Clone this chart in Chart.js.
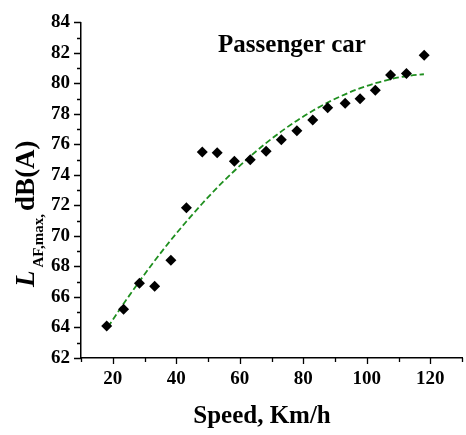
<!DOCTYPE html>
<html>
<head>
<meta charset="utf-8">
<script src="https://cdn.jsdelivr.net/npm/chart.js@4.4.1/dist/chart.umd.min.js"></script>
<style>
  html, body { margin: 0; padding: 0; background: #fff; overflow: hidden; }
  #ruido { display: block; }
</style>
</head>
<body>
<canvas id="ruido" width="472" height="435"></canvas>
<script>
"use strict";

// measured pass-by levels
const speeds = [18.1, 23.4, 28.4, 33.2, 38.3, 43.2, 48.2, 52.9, 58.3, 63.3, 68.3,
    73.1, 78.0, 83.0, 87.7, 93.2, 97.9, 102.7, 107.5, 112.5, 118.1];
const levels = [64.1, 65.2, 66.9, 66.7, 68.4, 71.85, 75.5, 75.45, 74.9, 75.0, 75.55,
    76.3, 76.9, 77.6, 78.4, 78.7, 79.0, 79.55, 80.55, 80.65, 81.85];

// trend line
const fitSpeeds = [18.5, 23, 28, 33, 38, 43, 48, 53, 58, 63, 68,
    73, 78, 83, 88, 93, 98, 103, 108, 113, 118];
const fitLevels = [64.03, 65.43, 66.91, 68.32, 69.65, 70.9, 72.08, 73.19, 74.21, 75.16, 76.04,
    76.84, 77.56, 78.21, 78.78, 79.27, 79.69, 80.03, 80.3, 80.49, 80.6];

const xTickLabels = [20, 40, 60, 80, 100, 120];
const yTickLabels = [62, 64, 66, 68, 70, 72, 74, 76, 78, 80, 82, 84];

const serif = "'Liberation Serif', 'Times New Roman', serif";

document.addEventListener("DOMContentLoaded", () => {
    const ruido = document.querySelector("#ruido");

    /**
     * Tick marks (long on labelled values, short in between) and the texts
     */
    const decoration = {
        id: "decoration",
        afterDraw(chart) {
            const { ctx, chartArea, scales } = chart;
            const x = scales.x;
            const y = scales.y;

            ctx.save();
            ctx.strokeStyle = "#000";
            ctx.lineWidth = 1.3;
            ctx.beginPath();
            for (let v = 10; v <= 130; v += 10) {
                const px = Math.round(x.getPixelForValue(v)) + 0.5;
                const len = v % 20 === 0 ? 6 : 4;
                ctx.moveTo(px, chartArea.bottom);
                ctx.lineTo(px, chartArea.bottom + len);
            }
            for (let v = 62; v <= 84; v += 1) {
                const py = Math.round(y.getPixelForValue(v)) + 0.5;
                const len = v % 2 === 0 ? 7 : 4;
                ctx.moveTo(chartArea.left, py);
                ctx.lineTo(chartArea.left - len, py);
            }
            ctx.stroke();

            ctx.fillStyle = "#000";
            ctx.textBaseline = "alphabetic";
            ctx.textAlign = "center";

            ctx.font = `bold 25px ${serif}`;
            ctx.fillText("Passenger car", 292, 52);
            ctx.fillText("Speed, Km/h", 262, 423);

            // L with subscript AF,max, then dB(A), read bottom to top
            ctx.translate(34, 287);
            ctx.rotate(-Math.PI / 2);
            ctx.textAlign = "left";
            ctx.font = `italic bold 27px ${serif}`;
            ctx.fillText("L", 0, 0);
            const lWidth = ctx.measureText("L").width;
            ctx.font = `bold 15px ${serif}`;
            ctx.fillText("AF,max,", lWidth + 3, 9);
            const subWidth = ctx.measureText("AF,max,").width;
            ctx.font = `bold 27px ${serif}`;
            ctx.fillText("dB(A)", lWidth + 3 + subWidth + 3, 0);
            ctx.restore();
        },
    };

    const chart = new Chart(ruido, {
        type: "scatter",
        data: {
            datasets: [
                {
                    label: "Measured",
                    data: speeds.map((s, i) => ({ x: s, y: levels[i] })),
                    pointStyle: "rectRot",
                    pointRadius: 5.5,
                    backgroundColor: "#000",
                    borderColor: "#000",
                    borderWidth: 0,
                },
                {
                    label: "Fit",
                    data: fitSpeeds.map((s, i) => ({ x: s, y: fitLevels[i] })),
                    showLine: true,
                    pointRadius: 0,
                    borderColor: "#1f8f1f",
                    borderWidth: 1.8,
                    borderDash: [6, 3],
                    cubicInterpolationMode: "monotone",
                },
            ],
        },
        options: {
            responsive: false,
            animation: false,
            layout: { padding: { top: 20, right: 0, left: 0, bottom: 0 } },
            plugins: {
                legend: { display: false },
                tooltip: { enabled: false },
            },
            scales: {
                x: {
                    type: "linear",
                    min: 10,
                    max: 130,
                    afterFit: (scale) => { scale.height = 77; },
                    grid: { display: false, drawTicks: false },
                    border: { display: true, color: "#000", width: 1.5 },
                    ticks: {
                        stepSize: 10,
                        padding: 10,
                        color: "#000",
                        font: { family: serif, size: 19, weight: "bold" },
                        maxRotation: 0,
                        autoSkip: false,
                        callback: (v) => (xTickLabels.includes(v) ? v : ""),
                    },
                },
                y: {
                    type: "linear",
                    min: 62,
                    max: 84,
                    afterFit: (scale) => { scale.width = 81; },
                    grid: { display: false, drawTicks: false },
                    border: { display: true, color: "#000", width: 1.5 },
                    ticks: {
                        stepSize: 1,
                        padding: 11,
                        color: "#000",
                        font: { family: serif, size: 19, weight: "bold" },
                        autoSkip: false,
                        callback: (v) => (yTickLabels.includes(v) ? v : ""),
                    },
                },
            },
        },
        plugins: [decoration],
    });
});
</script>
</body>
</html>
